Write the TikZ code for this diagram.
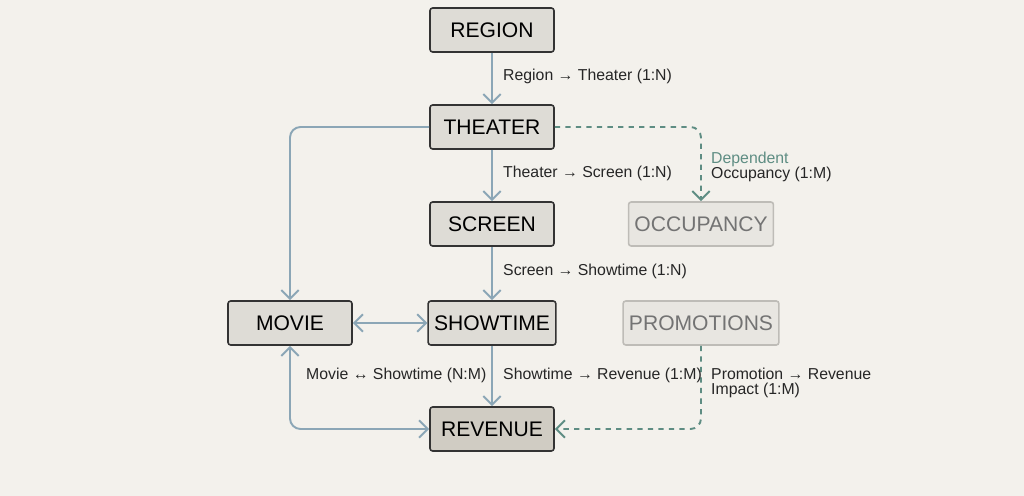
\documentclass[tikz,border=0pt]{standalone}
\usepackage{fontspec}
\setmainfont{Liberation Sans}
\usetikzlibrary{arrows.meta}
\definecolor{bg}{HTML}{F3F1EC}
\definecolor{boxfill}{HTML}{DEDCD6}
\definecolor{revfill}{HTML}{D0CCC3}
\definecolor{fadefill}{HTML}{E8E6E1}
\definecolor{fadeline}{HTML}{BEBCB7}
\definecolor{link}{HTML}{8BA6B6}
\definecolor{dep}{HTML}{5E8D83}
\tikzset{
	entity/.style={draw=black!80, fill=boxfill, line width=.9pt, rounded corners=1.5pt,
		minimum width=2.48cm, minimum height=.88cm, font=\large},
	faded/.style={entity, draw=fadeline, fill=fadefill, text=black!55},
	rel/.style={draw=link, line width=1.1pt, -{Straight Barb[length=5pt,width=10pt]}, rounded corners=6pt},
	deprel/.style={rel, draw=dep, dashed},
	lbl/.style={font=\small, anchor=west, text=black!85, align=left}
}
\begin{document}
\begin{tikzpicture}[x=.02cm, y=-.02cm]
	\fill[bg] (0,0) rectangle (1024,496);
	\node[entity] (region)    at (492,30)  {REGION};
	\node[entity] (theater)   at (492,127) {THEATER};
	\node[entity] (screen)    at (492,224) {SCREEN};
	\node[entity] (showtime)  at (492,323) {SHOWTIME};
	\node[entity, fill=revfill] (revenue) at (492,429) {REVENUE};
	\node[entity] (movie)     at (290,323) {MOVIE};
	\node[faded]  (occupancy) at (701,224) {OCCUPANCY};
	\node[faded]  (promo)     at (701,323) {PROMOTIONS};
	% main chain
	\draw[rel] (region) -- (theater);
	\draw[rel] (theater) -- (screen);
	\draw[rel] (screen) -- (showtime);
	\draw[rel] (showtime) -- (revenue);
	\draw[rel, {Straight Barb[length=5pt,width=10pt]}-{Straight Barb[length=5pt,width=10pt]}] (movie) -- (showtime);
	\draw[rel] (theater.west) -| (movie.north);
	\draw[rel, {Straight Barb[length=5pt,width=10pt]}-{Straight Barb[length=5pt,width=10pt]}] (movie.south) |- (revenue.west);
	% dependent links
	\draw[deprel] (theater.east) -| (occupancy.north);
	\draw[deprel] (promo.south) |- (revenue.east);
	% labels
	\node[lbl] (l1) at (497,76)  {Region → Theater (1:N)};
	\node[lbl] (l2) at (497,173) {Theater → Screen (1:N)};
	\node[lbl] (l3) at (497,271) {Screen → Showtime (1:N)};
	\node[lbl] (l4) at (497,375) {Showtime → Revenue (1:M)};
	\node[lbl] (l5) at (300,375) {Movie ↔ Showtime (N:M)};
	\node[lbl] (l6) at (705,167) {\textcolor{dep}{Dependent}\\[-2pt]Occupancy (1:M)};
	\node[lbl] (l7) at (705,383) {Promotion → Revenue\\[-2pt]Impact (1:M)};
\end{tikzpicture}
\end{document}
